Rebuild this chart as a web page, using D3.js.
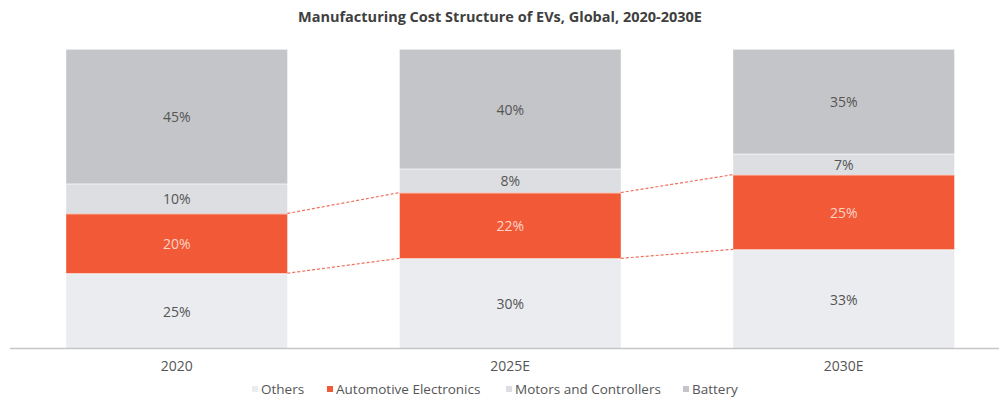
<!DOCTYPE html>
<html>
<head>
<meta charset="utf-8">
<style>
  body { margin: 0; background: #fff; }
  svg { display: block; font-family: "Open Sans", sans-serif; }
</style>
</head>
<body>
<svg width="999" height="401"></svg>
<script src="https://cdn.jsdelivr.net/npm/d3@7"></script>
<script>
  // data
  var years = ["2020", "2025E", "2030E"];
  var series = ["Others", "Automotive Electronics", "Motors and Controllers", "Battery"];
  var others = [25, 30, 33];
  var electronics = [20, 22, 25];
  var motors = [10, 8, 7];
  var battery = [45, 40, 35];
  var colors = ["#eaecef", "#f25a37", "#dcdee1", "#c4c5c8"];

  var svg = d3.select("svg");

  var rows = years.map(function(y, i) {
    return {
      year: y,
      "Others": others[i],
      "Automotive Electronics": electronics[i],
      "Motors and Controllers": motors[i],
      "Battery": battery[i]
    };
  });

  var x = d3.scaleBand()
    .domain(years)
    .range([10, 1010.5])
    .paddingInner(0.337)
    .paddingOuter(0.1685);

  var y = d3.scaleLinear()
    .domain([0, 100])
    .range([348, 49]);

  var z = d3.scaleOrdinal().domain(series).range(colors);

  var stack = d3.stack().keys(series)(rows);

  svg.append("text")
    .attr("x", 500)
    .attr("y", 22)
    .attr("text-anchor", "middle")
    .attr("font-size", 14.5)
    .attr("font-weight", "bold")
    .attr("fill", "#3f3f3f")
    .text("Manufacturing Cost Structure of EVs, Global, 2020-2030E");

  var layer = svg.append("g")
    .selectAll("g")
    .data(stack)
    .enter().append("g")
    .attr("fill", function(d) { return z(d.key); });

  layer.selectAll("rect")
    .data(function(d) { return d; })
    .enter().append("rect")
    .attr("x", function(d) { return x(d.data.year); })
    .attr("y", function(d) { return y(d[1]); })
    .attr("height", function(d) { return y(d[0]) - y(d[1]); })
    .attr("width", x.bandwidth());

  // thin separators between segments
  layer.selectAll("line")
    .data(function(d) { return d; })
    .enter().append("line")
    .attr("x1", function(d) { return x(d.data.year); })
    .attr("x2", function(d) { return x(d.data.year) + x.bandwidth(); })
    .attr("y1", function(d) { return y(d[1]) + 0.5; })
    .attr("y2", function(d) { return y(d[1]) + 0.5; })
    .attr("stroke", "#fff")
    .attr("stroke-opacity", 0.6)
    .attr("stroke-width", 1);

  layer.selectAll("text")
    .data(function(d) { return d.map(function(p) { p.key = d.key; return p; }); })
    .enter().append("text")
    .attr("x", function(d) { return x(d.data.year) + x.bandwidth() / 2; })
    .attr("y", function(d) { return (y(d[0]) + y(d[1])) / 2 + 1; })
    .attr("dy", "0.35em")
    .attr("text-anchor", "middle")
    .attr("font-size", 14)
    .attr("fill", function(d) { return d.key == "Automotive Electronics" ? "#fcd3c6" : "#555"; })
    .text(function(d) { return (d[1] - d[0]) + "%"; });

  // dashed connectors for the electronics segment
  var elec = stack[1];
  for (var i = 0; i < elec.length - 1; i++) {
    var a = elec[i], b = elec[i + 1];
    [1, 0].forEach(function(k) {
      svg.append("line")
        .attr("x1", x(a.data.year) + x.bandwidth())
        .attr("y1", y(a[k]))
        .attr("x2", x(b.data.year))
        .attr("y2", y(b[k]))
        .attr("stroke", "#f0705a")
        .attr("stroke-width", 1.2)
        .attr("stroke-dasharray", "3,2");
    });
  }

  // axis
  var axis = svg.append("g")
    .attr("transform", "translate(0,348)")
    .call(d3.axisBottom(x).tickSize(0).tickPadding(13));
  axis.select(".domain").remove();
  axis.selectAll("text")
    .attr("font-family", "Open Sans, sans-serif")
    .attr("font-size", 14)
    .attr("fill", "#555");
  svg.append("line")
    .attr("x1", 10).attr("x2", 999)
    .attr("y1", 348.5).attr("y2", 348.5)
    .attr("stroke", "#c6c6c6")
    .attr("stroke-width", 1.5);

  // legend
  var legendX = [252, 327, 506, 683];
  var legend = svg.append("g")
    .selectAll("g")
    .data(series)
    .enter().append("g")
    .attr("transform", function(d, i) { return "translate(" + legendX[i] + ",389)"; });
  legend.append("rect")
    .attr("y", -3)
    .attr("width", 6)
    .attr("height", 6)
    .attr("fill", function(d) { return z(d); });
  legend.append("text")
    .attr("x", 9)
    .attr("dy", "0.35em")
    .attr("font-size", 13.5)
    .attr("fill", "#555")
    .text(function(d) { return d; });
</script>
</body>
</html>
